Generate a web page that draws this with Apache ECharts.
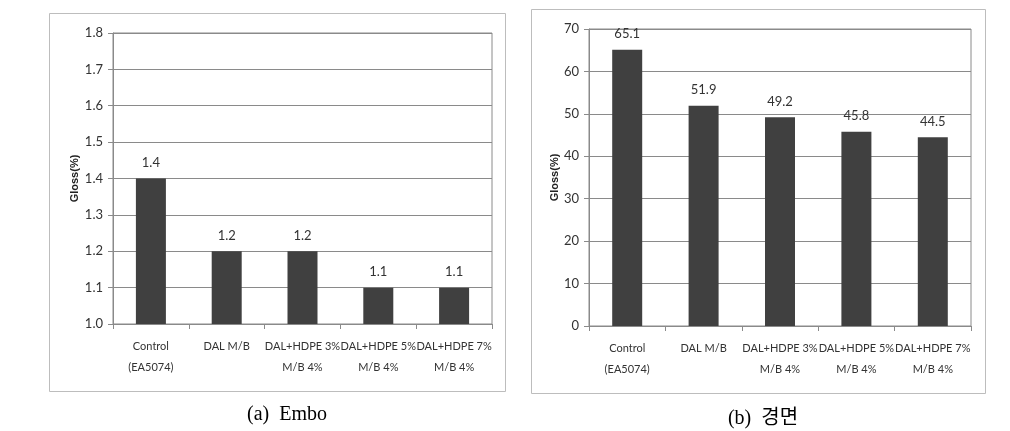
<!DOCTYPE html>
<html>
<head>
<meta charset="utf-8">
<script src="https://cdn.jsdelivr.net/npm/echarts@6/dist/echarts.min.js"></script>
<style>
html,body{margin:0;padding:0;background:#fff;}
#main{width:1010px;height:431px;}
</style>
</head>
<body>
<div id="main"></div>
<script>
const categories = ['Control\n(EA5074)', 'DAL M/B', 'DAL+HDPE 3%\nM/B 4%', 'DAL+HDPE 5%\nM/B 4%', 'DAL+HDPE 7%\nM/B 4%'];
const emboValues = [1.4, 1.2, 1.2, 1.1, 1.1];
const mirrorValues = [65.1, 51.9, 49.2, 45.8, 44.5];
const yAxisName = 'Gloss(%)';
const captionA = '(a)  Embo';
const captionB = '(b)  경면';

const labelFont = 'Lato, "Liberation Sans", Arial, sans-serif';
const barColor = '#404040';
const gridColor = '#8a8a8a';

function xAxisCfg(gridIndex) {
  return {
    type: 'category', gridIndex: gridIndex, data: categories,
    axisLine: {lineStyle: {color: gridColor, width: 1}},
    axisTick: {show: true, length: 5, lineStyle: {color: gridColor}},
    axisLabel: {color: '#333', fontFamily: labelFont, fontSize: 11, lineHeight: 21, margin: 12, interval: 0, hideOverlap: false}
  };
}
function yAxisCfg(gridIndex, min, max, interval, dec, gap) {
  return {
    type: 'value', gridIndex: gridIndex, min: min, max: max, interval: interval,
    name: yAxisName, nameLocation: 'middle', nameGap: gap, nameRotate: 90,
    nameTextStyle: {fontFamily: 'Arial, sans-serif', fontWeight: 'bold', fontSize: 11, color: '#222'},
    axisLine: {show: true, lineStyle: {color: gridColor}},
    axisTick: {show: true, length: 5, lineStyle: {color: gridColor}},
    splitLine: {show: true, lineStyle: {color: gridColor, width: 1}},
    axisLabel: {color: '#333', fontFamily: labelFont, fontSize: 13, margin: 10,
      formatter: v => v.toFixed(dec)}
  };
}
function barSeries(idx, values, dec) {
  return {
    type: 'bar', xAxisIndex: idx, yAxisIndex: idx, data: values, barWidth: 30,
    itemStyle: {color: barColor},
    label: {show: true, position: 'top', distance: 9, color: '#333', fontFamily: labelFont, fontSize: 13,
      formatter: p => p.value.toFixed(dec)},
    silent: true
  };
}

const chart = echarts.init(document.getElementById('main'), null, {renderer: 'canvas'});
chart.setOption({
  animation: false,
  backgroundColor: '#fff',
  graphic: [
    {type: 'rect', shape: {x: 49.5, y: 13.5, width: 456, height: 378}, style: {fill: 'none', stroke: '#bdbdbd', lineWidth: 1}, z: -1},
    {type: 'rect', shape: {x: 531.5, y: 9.5, width: 454, height: 384}, style: {fill: 'none', stroke: '#bdbdbd', lineWidth: 1}, z: -1}
  ],
  title: [
    {text: captionA, left: 282, top: 400, textAlign: 'center',
      textStyle: {fontFamily: '"Liberation Serif", "DejaVu Serif", "Noto Sans CJK KR", serif', fontWeight: 'normal', fontSize: 20, color: '#000'}},
    {text: captionB, left: 758, top: 404, textAlign: 'center',
      textStyle: {fontFamily: '"Liberation Serif", "DejaVu Serif", "Noto Sans CJK KR", serif', fontWeight: 'normal', fontSize: 20, color: '#000'}}
  ],
  grid: [
    {left: 113, right: 518, top: 33, bottom: 107, show: true, borderColor: gridColor, borderWidth: 1, backgroundColor: 'transparent'},
    {left: 589, right: 39, top: 29, bottom: 105, show: true, borderColor: gridColor, borderWidth: 1, backgroundColor: 'transparent'}
  ],
  xAxis: [xAxisCfg(0), xAxisCfg(1)],
  yAxis: [yAxisCfg(0, 1.0, 1.8, 0.1, 1, 33), yAxisCfg(1, 0, 70, 10, 0, 29)],
  series: [barSeries(0, emboValues, 1), barSeries(1, mirrorValues, 1)]
});
</script>
</body>
</html>
